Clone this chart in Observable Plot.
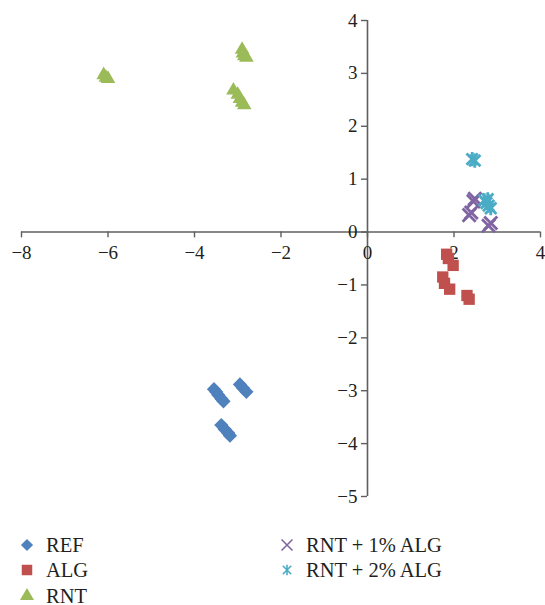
<!DOCTYPE html>
<html><head><meta charset="utf-8">
<script src="https://cdn.jsdelivr.net/npm/d3@7"></script>
<script src="https://cdn.jsdelivr.net/npm/@observablehq/plot@0.6"></script>
<style>
body{margin:0;background:#fff;font-family:"Liberation Serif","DejaVu Serif",serif;}
#legend{position:relative;height:85px;width:545px;font-size:20.5px;color:#231f20}
.item{position:absolute;height:24px;display:flex;align-items:center;white-space:nowrap}
</style></head><body><div id="chart"></div><div id="legend"></div>
<script>
// Series names and colours
const seriesNames = ["REF", "ALG", "RNT", "RNT + 1% ALG", "RNT + 2% ALG"];
const seriesColors = ["#4f81bd", "#c0504d", "#9bbb59", "#8064a2", "#4bacc6"];

// Point values
const refX = [-3.55, -3.5, -3.45, -3.38, -3.33, -2.95, -2.88, -2.8, -3.38, -3.3, -3.22, -3.18];
const refY = [-2.97, -3.02, -3.08, -3.15, -3.2, -2.88, -2.95, -3.02, -3.65, -3.73, -3.8, -3.85];
const algX = [1.83, 1.87, 1.98, 1.74, 1.78, 1.9, 2.3, 2.35];
const algY = [-0.42, -0.5, -0.63, -0.85, -0.97, -1.08, -1.2, -1.27];
const rntX = [-6.1, -6.05, -6.0, -2.9, -2.88, -2.85, -2.8, -3.1, -3.0, -2.95, -2.9, -2.85];
const rntY = [2.97, 2.92, 2.9, 3.45, 3.38, 3.33, 3.3, 2.68, 2.6, 2.52, 2.45, 2.4];
const rnt1X = [2.48, 2.45, 2.35, 2.4, 2.8, 2.85];
const rnt1Y = [0.63, 0.58, 0.32, 0.37, 0.12, 0.17];
const rnt2X = [2.42, 2.48, 2.7, 2.75, 2.8, 2.85, 2.78];
const rnt2Y = [1.38, 1.35, 0.6, 0.55, 0.5, 0.45, 0.62];

// Axis ticks
const xTicks = [-8, -6, -4, -2, 0, 2, 4];
const yTicks = [4, 3, 2, 1, 0, -1, -2, -3, -4, -5];

// Excel-like star marker: a cross of diagonals plus a vertical bar
const starSymbol = {
  draw(context, size) {
    const r = Math.sqrt(size) * 0.5;
    const d = r * 0.8;
    context.moveTo(-d, -d); context.lineTo(d, d);
    context.moveTo(d, -d); context.lineTo(-d, d);
    context.moveTo(0, -r); context.lineTo(0, r);
  }
};
const seriesSymbols = [d3.symbolDiamond2, d3.symbolSquare, d3.symbolTriangle, d3.symbolTimes, starSymbol];

const seriesX = [refX, algX, rntX, rnt1X, rnt2X];
const seriesY = [refY, algY, rntY, rnt1Y, rnt2Y];
const fmt = d => d < 0 ? "\u2212" + Math.abs(d) : String(d);

const axisColor = "#5f5f5f";
const textColor = "#231f20";

const dotMarks = seriesNames.map((name, i) => {
  const data = seriesX[i].map((x, j) => ({x, y: seriesY[i][j]}));
  const filled = i < 3;
  const r = [6.4, 6.4, 5.4, 6.0, 8.0][i];
  return Plot.dot(data, {
    x: "x", y: "y", symbol: seriesSymbols[i], r,
    fill: filled ? seriesColors[i] : "none",
    stroke: filled ? "none" : seriesColors[i],
    strokeWidth: filled ? 0 : 2.8
  });
});

const chart = Plot.plot({
  width: 545, height: 520,
  marginLeft: 21, marginRight: 5, marginTop: 20, marginBottom: 24,
  x: {domain: [-8, 4], axis: null},
  y: {domain: [-5, 4], axis: null},
  style: {fontFamily: "'Liberation Serif', serif", fontSize: "19px", background: "#fff"},
  marks: [
    Plot.ruleY([0], {x1: -8, x2: 4, stroke: axisColor, strokeWidth: 1.6}),
    Plot.ruleX([0], {y1: -5, y2: 4, stroke: axisColor, strokeWidth: 1.6}),
    Plot.ruleX(xTicks, {x: d => d, y1: 0, y2: -0.11, stroke: axisColor, strokeWidth: 1.4}),
    Plot.ruleY(yTicks, {y: d => d, x1: -0.14, x2: 0, stroke: axisColor, strokeWidth: 1.4}),
    Plot.text(xTicks, {x: d => d, y: 0, dy: 21, text: fmt, fill: textColor, fontSize: 19}),
    Plot.text(yTicks, {x: 0, y: d => d, dx: -10, textAnchor: "end", text: fmt, fill: textColor, fontSize: 19}),
    ...dotMarks
  ]
});
document.getElementById("chart").appendChild(chart);

// Legend below the chart
const legend = d3.select("#legend");
const pos = [[27, 25], [27, 50], [27, 76], [287, 25], [287, 50]];
seriesNames.forEach((name, i) => {
  const [mx, my] = pos[i];
  legend.append("div").attr("class", "item")
    .style("left", (mx + 19) + "px").style("top", (my - 12) + "px").text(name);
  const svg = legend.append("svg").attr("width", 20).attr("height", 20)
    .style("position", "absolute").style("left", (mx - 10) + "px").style("top", (my - 10) + "px")
    .style("overflow", "visible");
  const size = [95, 110, 85, 80, 110][i];
  const filled = i < 3;
  svg.append("path").attr("transform", "translate(10,10)")
    .attr("d", d3.symbol(seriesSymbols[i], size)())
    .attr("fill", filled ? seriesColors[i] : "none")
    .attr("stroke", filled ? "none" : seriesColors[i])
    .attr("stroke-width", 1.6);
});
</script></body></html>
